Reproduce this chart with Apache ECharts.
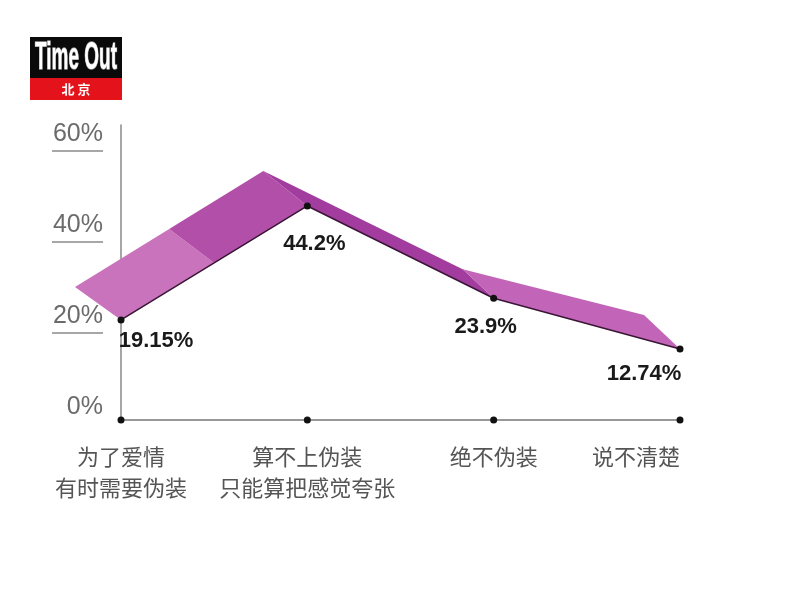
<!DOCTYPE html>
<html>
<head>
<meta charset="utf-8">
<script src="https://cdn.jsdelivr.net/npm/echarts@6/dist/echarts.min.js"></script>
<style>
	html, body { margin: 0; padding: 0; background: #fff; }
	#main { width: 800px; height: 600px; }
</style>
</head>
<body>
<div id="main"></div>
<script>
	// 数据
	var categories = ['为了爱情\n有时需要伪装', '算不上伪装\n只能算把感觉夸张', '绝不伪装', '说不清楚'];
	var values = [19.15, 44.2, 23.9, 12.74];
	var valueLabels = ['19.15%', '44.2%', '23.9%', '12.74%'];
	var yTicks = [0, 20, 40, 60];

	// 坐标轴范围 (0% 略高于横轴)
	var yMin = -2.86;
	var yMax = 62;

	// 立体带子的后边偏移, 每个点一个
	var backOffsets = [[-46, -33], [-44, -35], [-31, -29], [-36, -34]];
	var faceColors = ['#a23c9e', '#c264b7'];
	var labelOffsets = [[35, 21], [7, 38], [-8, 29], [-36, 25]];

	var myChart = echarts.init(document.getElementById('main'));

	function renderRibbon(params, api) {
		var i = params.dataIndex;
		var a = api.coord([i, values[i]]);
		var b = api.coord([i + 1, values[i + 1]]);
		var oa = backOffsets[i], ob = backOffsets[i + 1];
		var a2 = [a[0] + oa[0], a[1] + oa[1]];
		var b2 = [b[0] + ob[0], b[1] + ob[1]];
		if (i === 0) {
			// 第一段有折痕, 两种颜色
			var m = [(a[0] + b[0]) / 2, (a[1] + b[1]) / 2];
			var m2 = [(a2[0] + b2[0]) / 2, (a2[1] + b2[1]) / 2];
			return {
				type: 'group',
				children: [
					{ type: 'polygon', shape: { points: [a, m, m2, a2] }, style: { fill: '#c873bb' } },
					{ type: 'polygon', shape: { points: [m, b, b2, m2] }, style: { fill: '#b24fa8' } }
				]
			};
		}
		return {
			type: 'polygon',
			shape: { points: [a, b, b2, a2] },
			style: { fill: faceColors[i - 1] }
		};
	}

	var lineData = values.map(function (v, i) {
		return {
			value: v,
			label: { position: 'inside', offset: labelOffsets[i], formatter: valueLabels[i] }
		};
	});

	var option = {
		backgroundColor: '#ffffff',
		animation: false,
		grid: { left: 121, right: 120, top: 125, bottom: 180 },
		xAxis: {
			type: 'category',
			data: categories,
			boundaryGap: false,
			axisLine: { onZero: false, lineStyle: { color: '#777', width: 1.5 } },
			axisTick: { show: false },
			axisLabel: {
				color: '#555',
				fontSize: 22,
				lineHeight: 31,
				margin: 21,
				fontFamily: 'Noto Sans CJK SC',
				interval: 0,
				alignMaxLabel: 'right'
			}
		},
		yAxis: {
			type: 'value',
			min: yMin,
			max: yMax,
			axisLine: { show: true, lineStyle: { color: '#888', width: 1.5 } },
			axisTick: { show: false },
			splitLine: { show: false },
			axisLabel: {
				customValues: yTicks,
				formatter: function (v) { return v + '%'; },
				color: '#6b6b6b',
				fontSize: 25,
				margin: 18,
				fontFamily: 'Liberation Sans'
			}
		},
		series: [
			{
				type: 'custom',
				renderItem: renderRibbon,
				data: values.slice(0, values.length - 1).map(function (v, i) { return i; }),
				z: 1,
				silent: true
			},
			{
				type: 'line',
				data: lineData,
				z: 3,
				symbol: 'circle',
				symbolSize: 7,
				itemStyle: { color: '#111', opacity: 1 },
				lineStyle: { color: '#3a1636', width: 1.5 },
				label: {
					show: true,
					color: '#1a1a1a',
					fontSize: 22,
					fontWeight: 'bold',
					fontFamily: 'Liberation Sans'
				}
			},
			{
				type: 'scatter',
				data: values.map(function () { return yMin; }),
				symbol: 'circle',
				symbolSize: 7,
				itemStyle: { color: '#111', opacity: 1 },
				z: 4
			}
		]
	};

	myChart.setOption(option);

	// 纵轴标签下划线 + 标志
	var graphics = [];
	yTicks.forEach(function (t) {
		if (t === 0) return;
		var y = Math.round(myChart.convertToPixel({ yAxisIndex: 0 }, t)) + 17;
		graphics.push({
			type: 'line',
			shape: { x1: 52, y1: y, x2: 103, y2: y },
			style: { stroke: '#8a8a8a', lineWidth: 1.5 }
		});
	});
	graphics.push(
		{ type: 'rect', shape: { x: 30, y: 37, width: 92, height: 41 }, style: { fill: '#0a0a0a' } },
		{ type: 'rect', shape: { x: 30, y: 78, width: 92, height: 22 }, style: { fill: '#e3121b' } },
		{
			type: 'text', x: 76, y: 59, scaleX: 0.5,
			style: {
				text: 'Time Out', fill: '#fff', stroke: '#9a9a9a', lineWidth: 1.5,
				font: 'bold 38px "Liberation Sans Narrow", "Liberation Sans"',
				align: 'center', verticalAlign: 'middle'
			}
		},
		{
			type: 'text', x: 76, y: 89,
			style: {
				text: '北 京', fill: '#fff',
				font: 'bold 13px "Noto Sans CJK SC"',
				align: 'center', verticalAlign: 'middle'
			}
		}
	);
	myChart.setOption({ graphic: graphics });
</script>
</body>
</html>
